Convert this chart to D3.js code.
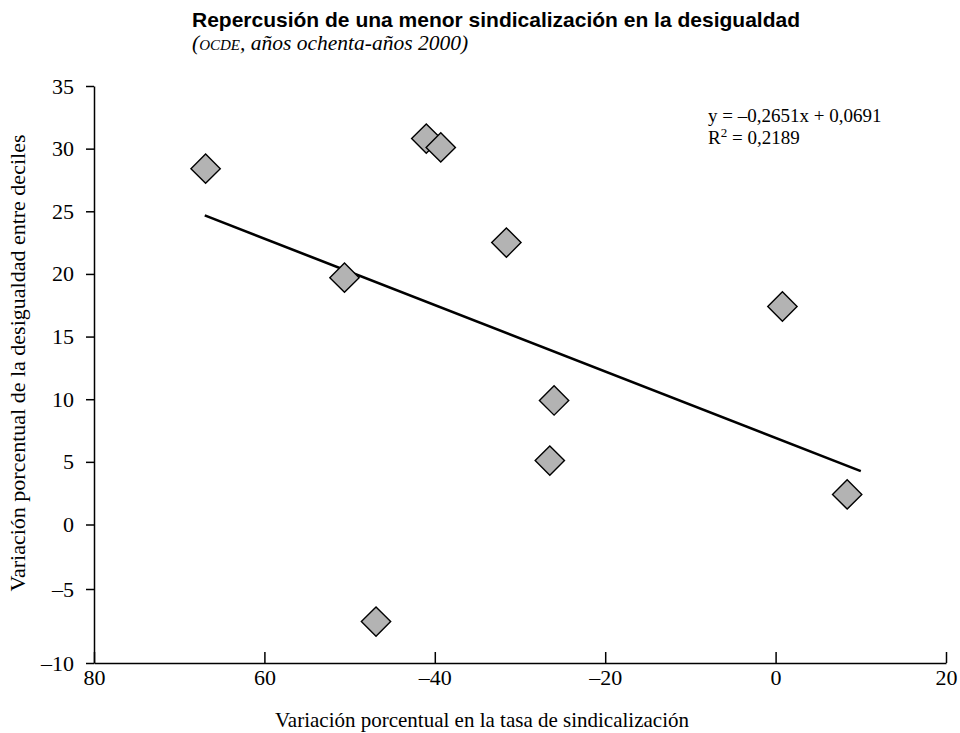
<!DOCTYPE html>
<html lang="es">
<head>
<meta charset="utf-8">
<title>Repercusión de una menor sindicalización en la desigualdad</title>
<script src="https://cdn.jsdelivr.net/npm/d3@7"></script>
<style>
  body { margin: 0; background: #fff; }
  svg { display: block; }
</style>
</head>
<body>
<svg id="svg1" width="960" height="733"></svg>
<script>
"use strict";

// data
let unionChange = [-66.9, -41.0, -39.3, -31.6, -50.6, 0.8, -26.0, -26.5, 8.4, -46.9];
let inequalityChange = [28.4, 30.8, 30.1, 22.5, 19.7, 17.4, 9.9, 5.1, 2.4, -7.2];

let xTicks = [-80, -60, -40, -20, 0, 20];
let xTickLabels = ["80", "60", "–40", "–20", "0", "20"];
let yTicks = [-10, -5, 0, 5, 10, 15, 20, 25, 30, 35];
let yTickLabels = ["–10", "–5", "0", "5", "10", "15", "20", "25", "30", "35"];

// trend line as printed on the chart (x in %, intercept 0,0691 -> 6,91 %)
let trendSlope = -0.2651;
let trendIntercept = 6.91;
let trendRange = [-67, 10];

let svg = d3.select("#svg1");
let serif = "'Liberation Serif', 'Times New Roman', serif";

let x = d3.scaleLinear().domain([-80, 20]).range([94, 946]);
// the original axis is stretched a bit below -5
let y = d3.scaleLinear().domain([-10, -5, 0, 35]).range([663, 589, 524.5, 86]);

// title
svg.append("text")
    .attr("x", 192)
    .attr("y", 27)
    .style("font-family", "'Liberation Sans', Arial, sans-serif")
    .style("font-weight", "bold")
    .style("font-size", "21px")
    .text("Repercusión de una menor sindicalización en la desigualdad");

let sub = svg.append("text")
    .attr("x", 192)
    .attr("y", 50)
    .style("font-family", serif)
    .style("font-style", "italic")
    .style("font-size", "21.5px");
sub.append("tspan").text("(");
sub.append("tspan").style("font-variant", "small-caps").text("ocde");
sub.append("tspan").text(", años ochenta-años 2000)");

// axes
let xAxis = svg.append("g")
    .attr("transform", `translate(0,${y(-10)})`)
    .call(d3.axisBottom(x).tickValues(xTicks).tickSizeInner(-11).tickSizeOuter(0)
        .tickPadding(6).tickFormat((d, i) => xTickLabels[i]));

let yAxis = svg.append("g")
    .attr("transform", `translate(${x(-80)},0)`)
    .call(d3.axisLeft(y).tickValues(yTicks).tickSizeInner(8).tickSizeOuter(0)
        .tickPadding(12).tickFormat((d, i) => yTickLabels[i]));

[xAxis, yAxis].forEach(a => {
  a.select(".domain").attr("stroke", "#000").attr("stroke-width", 1.5);
  a.selectAll(".tick line").attr("stroke", "#000").attr("stroke-width", 1.5);
  a.selectAll(".tick text")
      .style("font-family", serif)
      .style("font-size", "22px")
      .attr("fill", "#000");
});

// axis titles
svg.append("text")
    .attr("x", 482)
    .attr("y", 727)
    .attr("text-anchor", "middle")
    .style("font-family", serif)
    .style("font-size", "21px")
    .text("Variación porcentual en la tasa de sindicalización");

svg.append("text")
    .attr("transform", "translate(25,363) rotate(-90)")
    .attr("text-anchor", "middle")
    .style("font-family", serif)
    .style("font-size", "22px")
    .text("Variación porcentual de la desigualdad entre deciles");

// trend line
svg.append("line")
    .attr("x1", x(trendRange[0]))
    .attr("y1", y(trendSlope * trendRange[0] + trendIntercept))
    .attr("x2", x(trendRange[1]))
    .attr("y2", y(trendSlope * trendRange[1] + trendIntercept))
    .attr("stroke", "#000")
    .attr("stroke-width", 2.6);

// points
let diamond = d3.symbol().type(d3.symbolSquare).size(430);
svg.selectAll(".pt")
    .data(unionChange.map((v, i) => [v, inequalityChange[i]]))
    .enter().append("path")
      .attr("class", "pt")
      .attr("d", diamond)
      .attr("transform", d => `translate(${x(d[0])},${y(d[1])}) rotate(45)`)
      .attr("fill", "#b3b3b3")
      .attr("stroke", "#000")
      .attr("stroke-width", 1.4);

// equation
svg.append("text")
    .attr("x", 708)
    .attr("y", 122)
    .style("font-family", serif)
    .style("font-size", "19px")
    .text("y = –0,2651x + 0,0691");

let r2 = svg.append("text")
    .attr("x", 708)
    .attr("y", 144)
    .style("font-family", serif)
    .style("font-size", "19px");
r2.append("tspan").text("R");
r2.append("tspan").attr("dy", -7).style("font-size", "13px").text("2");
r2.append("tspan").attr("dy", 7).text(" = 0,2189");
</script>
</body>
</html>
